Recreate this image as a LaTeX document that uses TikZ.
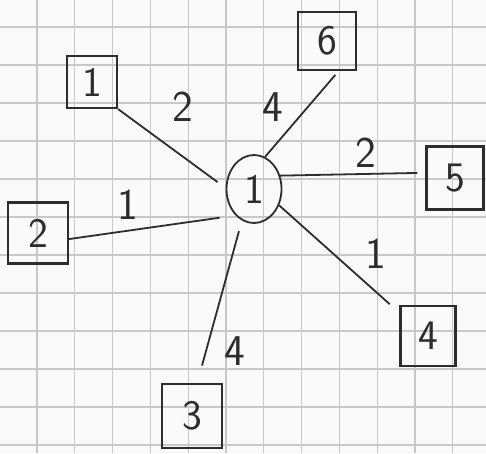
\documentclass[tikz,border=0pt]{standalone}
\usepackage{fontspec}
\usepackage{tikz}
\usetikzlibrary{shapes.geometric, positioning}

\definecolor{ink}{RGB}{45,45,45}
\definecolor{gridgray}{RGB}{200,200,200}
\definecolor{paper}{RGB}{250,250,250}

\tikzset{
  vbox/.style={draw=ink, line width=2.2pt, text=ink, rectangle, inner sep=0pt,
    minimum width=57pt, minimum height=60pt, font=\sffamily\fontsize{42}{42}\selectfont},
  hub/.style={draw=ink, line width=1.8pt, text=ink, ellipse, inner sep=0pt,
    minimum width=55pt, minimum height=68pt, font=\sffamily\fontsize{42}{42}\selectfont},
  edge/.style={draw=ink, line width=1.8pt},
  wt/.style={text=ink, inner sep=0pt, font=\sffamily\fontsize{44}{44}\selectfont}
}

\begin{document}
\begin{tikzpicture}[x=1pt, y=-1pt]

        % paper and grid
        \fill[paper] (0,0) rectangle (486,453);
        \useasboundingbox (0,0) rectangle (486,453);
        \foreach \k in {0,...,11} {
            \draw[gridgray, line width=1.2pt] ({37+37.8*\k},0) -- ({37+37.8*\k},453);
            \draw[gridgray, line width=1.2pt] (0,{27+38*\k}) -- (486,{27+38*\k});
        }

        % 1. Central node
        \node[hub] (c) at (254,189) {1};

        % 2. Surrounding nodes
        \node[vbox, minimum width=50pt, minimum height=52pt] (n1) at (92,82) {1};
        \node[vbox, minimum width=60pt, minimum height=61pt] (n2) at (38,233) {2};
        \node[vbox, minimum width=60pt, minimum height=64pt] (n3) at (192,416) {3};
        \node[vbox, minimum width=55pt, minimum height=60pt] (n4) at (428,336) {4};
        \node[vbox, minimum width=57pt, minimum height=63pt] (n5) at (455,178) {5};
        \node[vbox, minimum width=58pt, minimum height=58pt] (n6) at (327,41) {6};

        % 3. Edges to the centre
        \draw[edge, shorten >=10pt] (n1.south east) -- (c.178);
        \draw[edge, shorten >=16pt] (n2.-11) -- (c.-125);
        \draw[edge, shorten <=18pt, shorten >=11pt] (n3.81) -- (c.-111);
        \draw[edge, shorten <=13pt] (n4.141) -- (c.-33);
        \draw[edge, shorten <=8pt] (n5.170) -- (c.27);
        \draw[edge, shorten <=5pt] (n6.-69) -- (c.71);

        % 4. Edge weights
        \node[wt] (w1) at (183,107) {2};
        \node[wt] (w2) at (128,205) {1};
        \node[wt] (w3) at (235,351) {4};
        \node[wt] (w4) at (376,254) {1};
        \node[wt] (w5) at (366,153) {2};
        \node[wt] (w6) at (273,107) {4};

\end{tikzpicture}
\end{document}
